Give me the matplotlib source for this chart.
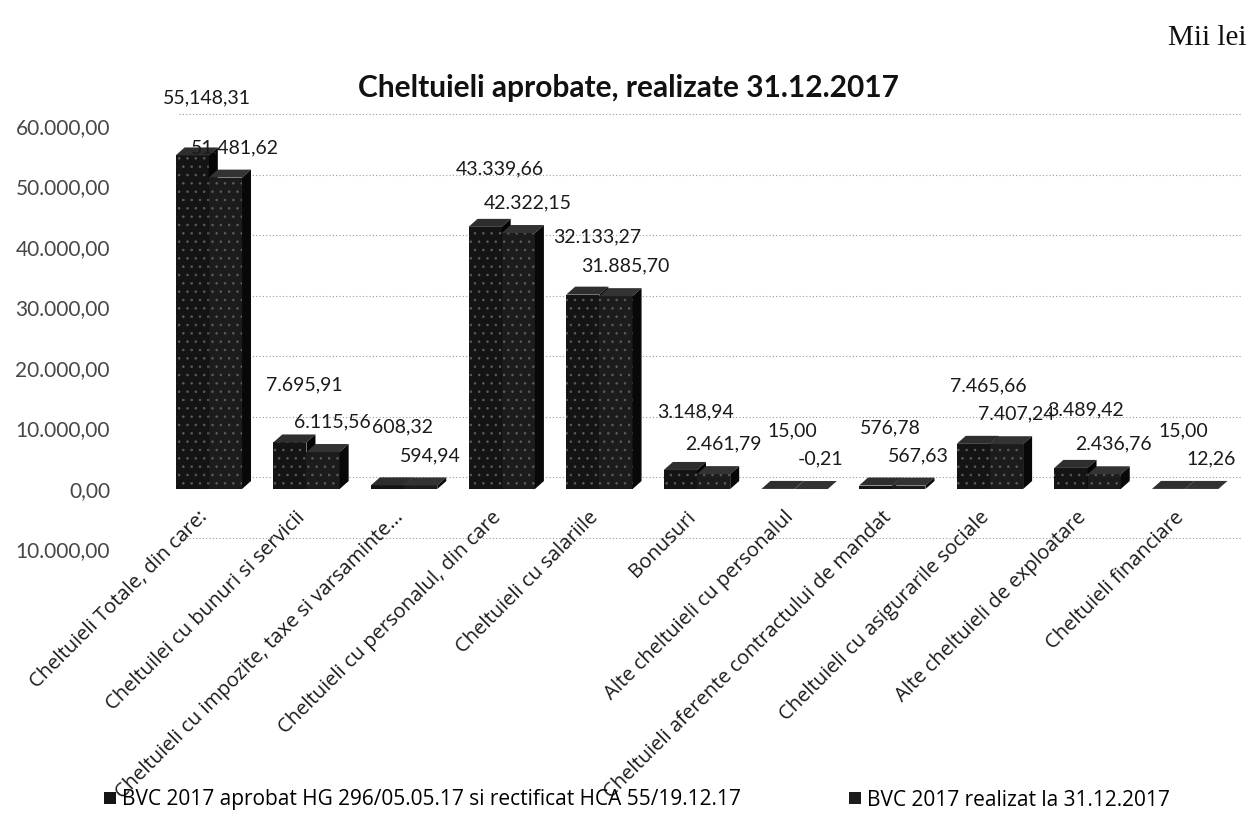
import matplotlib
matplotlib.use("Agg")
import matplotlib.pyplot as plt
from matplotlib.patches import Polygon, Patch
from matplotlib.transforms import ScaledTranslation
import numpy as np

categories = [
    "Cheltuieli Totale, din care:",
    "Cheltuilei cu bunuri si servicii",
    "Cheltuieli cu impozite, taxe si varsaminte...",
    "Cheltuieli cu personalul, din care",
    "Cheltuieli cu salariile",
    "Bonusuri",
    "Alte cheltuieli cu personalul",
    "Cheltuieli aferente contractului de mandat",
    "Cheltuieli cu asigurarile sociale",
    "Alte cheltuieli de exploatare",
    "Cheltuieli financiare",
]
aprobat = [55148.31, 7695.91, 608.32, 43339.66, 32133.27, 3148.94, 15.00, 576.78, 7465.66, 3489.42, 15.00]
realizat = [51481.62, 6115.56, 594.94, 42322.15, 31885.70, 2461.79, -0.21, 567.63, 7407.24, 2436.76, 12.26]
aprobat_labels = ["55,148,31", "7.695,91", "608,32", "43.339,66", "32.133,27", "3.148,94",
                  "15,00", "576,78", "7.465,66", "3.489,42", "15,00"]
realizat_labels = ["51.481,62", "6.115,56", "594,94", "42.322,15", "31.885,70", "2.461,79",
                   "-0,21", "567,63", "7.407,24", "2.436,76", "12,26"]
ytick_values = [-10000, 0, 10000, 20000, 30000, 40000, 50000, 60000]
ytick_labels = ["10.000,00", "0,00", "10.000,00", "20.000,00", "30.000,00",
                "40.000,00", "50.000,00", "60.000,00"]
series_names = ["BVC 2017 aprobat HG 296/05.05.17 si rectificat HCA 55/19.12.17",
                "BVC 2017 realizat la 31.12.2017"]
title = "Cheltuieli aprobate, realizate 31.12.2017"
unit = "Mii lei"

W, H, DPI = 1254, 816, 100
fig = plt.figure(figsize=(W / DPI, H / DPI), dpi=DPI)
fig.patch.set_facecolor("white")
plt.rcParams["hatch.linewidth"] = 0.6

ax_left_px, ax_right_px = 160, 1234
ax_top_px, ax_bot_px = 114, 549.5
ax = fig.add_axes([ax_left_px / W, 1 - ax_bot_px / H,
                   (ax_right_px - ax_left_px) / W, (ax_bot_px - ax_top_px) / H])
n = len(categories)
xlim = (-0.5, n - 0.5)
ylim = (-10000, 62000)
ax.set_xlim(*xlim)
ax.set_ylim(*ylim)
for s in ax.spines.values():
    s.set_visible(False)

px_x = (xlim[1] - xlim[0]) / (ax_right_px - ax_left_px)   # data units per pixel
px_y = (ylim[1] - ylim[0]) / (ax_bot_px - ax_top_px)

# gridlines on the "back wall" (shifted up/right)
grid_shift = ScaledTranslation(8 / DPI, 12 / DPI, fig.dpi_scale_trans)
for v in ytick_values:
    ax.plot([0.01, 1.0], [v, v], transform=ax.get_yaxis_transform() + grid_shift,
            color="#9a9a9a", lw=0.8, ls=(0, (1, 2)), zorder=0, clip_on=False)

x = np.arange(n)
bw = 0.34
dd_x, dd_y = 9 * px_x, 8 * px_y

def bar3d(xc, h, front, top, side):
    x0, x1 = xc - bw / 2, xc + bw / 2
    ax.bar(xc, h, width=bw, bottom=0, color=front, edgecolor="#5c5c5c",
           linewidth=0, hatch="..", zorder=3)
    ax.add_patch(Polygon([(x0, h), (x1, h), (x1 + dd_x, h + dd_y), (x0 + dd_x, h + dd_y)],
                         closed=True, facecolor=top, edgecolor="none", zorder=3))
    ax.add_patch(Polygon([(x1, 0), (x1, h), (x1 + dd_x, h + dd_y), (x1 + dd_x, dd_y)],
                         closed=True, facecolor=side, edgecolor="none", zorder=3))

for i in range(n):
    bar3d(x[i] - bw / 2, aprobat[i], "#141414", "#2e2e2e", "#050505")
    bar3d(x[i] + bw / 2, realizat[i], "#1c1c1c", "#333333", "#080808")

# data labels
lab_font = dict(family="Lato", fontsize=14, color="#1a1a1a")
for i in range(n):
    ax.annotate(aprobat_labels[i], (x[i] - 0.02, max(aprobat[i], 0)),
                xytext=(0, 58), textcoords="offset pixels",
                ha="center", va="center", zorder=5, **lab_font)
    ax.annotate(realizat_labels[i], (x[i] + 0.27, max(realizat[i], 0)),
                xytext=(0, 30), textcoords="offset pixels",
                ha="center", va="center", zorder=5, **lab_font)

# y ticks
ax.set_yticks(ytick_values)
ax.set_yticklabels(ytick_labels, fontfamily="Lato", fontsize=15,
                   color="#474747")
ax.tick_params(axis="y", length=0, pad=36)

# x category labels
ax.set_xticks([])
for i, c in enumerate(categories):
    ax.text(x[i] - 0.04, -4200, c, rotation=45, rotation_mode="anchor",
            ha="right", va="center", family="Open Sans", fontsize=14.5,
            color="#1a1a1a", clip_on=False)

fig.text(628 / W, 1 - 88 / H, title, ha="center", va="center",
         family="Lato", fontweight="bold", fontsize=21.5, color="#111111")
fig.text(1246 / W, 1 - 38 / H, unit, ha="right", va="center",
         family="Liberation Serif", fontsize=21, color="#111111")

handles = [Patch(facecolor="#141414", edgecolor="none"),
           Patch(facecolor="#1c1c1c", edgecolor="none")]
fig.legend(handles, series_names, loc="center", bbox_to_anchor=(0.508, 1 - 800 / H),
           ncol=2, frameon=False, handlelength=0.55, handleheight=0.55,
           handletextpad=0.3, columnspacing=5.2,
           prop=dict(family="Open Sans", size=15))

fig.savefig("out.png", dpi=DPI, facecolor="white")
